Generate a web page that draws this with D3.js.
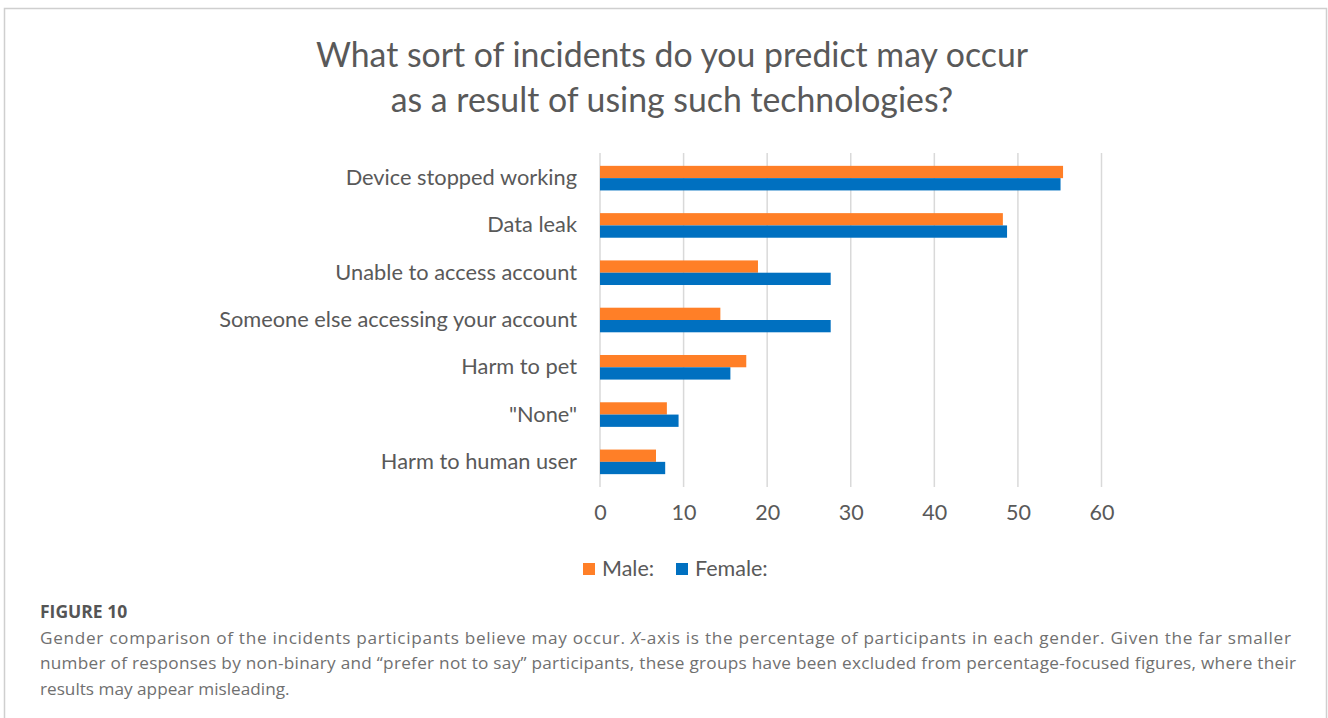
<!DOCTYPE html>
<html><head><meta charset="utf-8">
<script src="https://cdn.jsdelivr.net/npm/d3@7"></script>
<style>
html,body{margin:0;padding:0;background:#fff;}
svg{display:block;}
</style></head>
<body>
<svg id="chart" width="1328" height="718"></svg>
<script>
const categories = ["Device stopped working","Data leak","Unable to access account","Someone else accessing your account","Harm to pet","\"None\"","Harm to human user"];
const seriesNames = ["Male:","Female:"];
const maleValues = [55.4,48.2,18.9,14.4,17.5,8.0,6.7];
const femaleValues = [55.1,48.7,27.6,27.6,15.6,9.4,7.8];
const xTicks = [0,10,20,30,40,50,60];
const titleLines = ["What sort of incidents do you predict may occur","as a result of using such technologies?"];
const captionHead = "FIGURE 10";
const captionLines = [
 "Gender comparison of the incidents participants believe may occur. X-axis is the percentage of participants in each gender. Given the far smaller",
 "number of responses by non-binary and \u201cprefer not to say\u201d participants, these groups have been excluded from percentage-focused figures, where their",
 "results may appear misleading."
];
const colors = ["#FF7F27","#0070C0"];

const svg = d3.select("#chart");
const chartFont = "Lato, 'Open Sans', sans-serif";
const textCol = "#595959";

// frame
svg.append("path").attr("d","M4.5,740 V8.5 H1326.5 V740").attr("fill","none").attr("stroke","#cfcfcf").attr("stroke-width",1.5);

// title
svg.append("g").selectAll("text").data(titleLines).join("text")
  .attr("x",672).attr("y",(d,i)=>67+i*45)
  .attr("text-anchor","middle").attr("font-family",chartFont).attr("font-size",33.8)
  .attr("fill",textCol).text(d=>d);

const x = d3.scaleLinear().domain([0,60]).range([600,1101.5]);
const y = d3.scaleBand().domain(categories).range([154.5,485.5]).paddingInner(0.48).paddingOuter(0.24);
const ySub = d3.scaleBand().domain(seriesNames).range([0,y.bandwidth()]);

// grid
svg.append("g").selectAll("line").data(xTicks).join("line")
  .attr("x1",d=>x(d)).attr("x2",d=>x(d)).attr("y1",153).attr("y2",487)
  .attr("stroke","#d9d9d9").attr("stroke-width",1.5);

const rows = categories.map((c,i)=>({c, vals:[maleValues[i],femaleValues[i]]}));
const g = svg.append("g");
g.selectAll("g").data(rows).join("g")
  .attr("transform",d=>`translate(0,${y(d.c)})`)
  .selectAll("rect").data(d=>d.vals.map((v,j)=>({v,s:seriesNames[j],j})))
  .join("rect")
  .attr("x",x(0)).attr("y",d=>ySub(d.s)).attr("height",ySub.bandwidth())
  .attr("width",d=>x(d.v)-x(0)).attr("fill",d=>colors[d.j]);

// y axis labels
const yAxis = d3.axisLeft(y).tickSize(0).tickPadding(0);
const ya = svg.append("g").attr("transform","translate(577,0)").call(yAxis);
ya.select(".domain").remove();
ya.selectAll("text").attr("font-family",chartFont).attr("font-size",21.8).attr("fill",textCol);

// x axis labels
const xAxis = d3.axisBottom(x).tickValues(xTicks).tickSize(0).tickPadding(0);
const xa = svg.append("g").attr("transform","translate(0,505)").call(xAxis);
xa.select(".domain").remove();
xa.selectAll("text").attr("font-family",chartFont).attr("font-size",21.5).attr("fill",textCol);

// legend
const legendX = [583,676];
const lg = svg.append("g");
seriesNames.forEach((s,i)=>{
  lg.append("rect").attr("x",legendX[i]).attr("y",563).attr("width",12).attr("height",12).attr("fill",colors[i]);
  lg.append("text").attr("x",legendX[i]+19).attr("y",576).attr("font-family",chartFont)
    .attr("font-size",21.5).attr("fill",textCol).text(s);
});

// caption
svg.append("text").attr("x",40).attr("y",618).attr("font-family","'Open Sans', sans-serif")
  .attr("font-size",17.5).attr("font-weight",700).attr("fill","#555").text(captionHead);
const capWidths = [1251,1256,null];
const cap = svg.append("g");
captionLines.forEach((line,i)=>{
  const t = cap.append("text").attr("x",40).attr("y",643.5+i*25.8).attr("font-family","'Open Sans', sans-serif")
    .attr("font-size",17.2).attr("fill","#707070");
  if(i===0){
    const parts = line.split("X-axis");
    t.append("tspan").text(parts[0]);
    t.append("tspan").attr("font-style","italic").text("X");
    t.append("tspan").text("-axis"+parts[1]);
  } else t.text(line);
  if(capWidths[i]){
    const w = t.node().getComputedTextLength();
    const ls = (capWidths[i]-w)/(line.length-1);
    t.attr("letter-spacing", ls.toFixed(3));
  }
});
</script>
</body></html>
